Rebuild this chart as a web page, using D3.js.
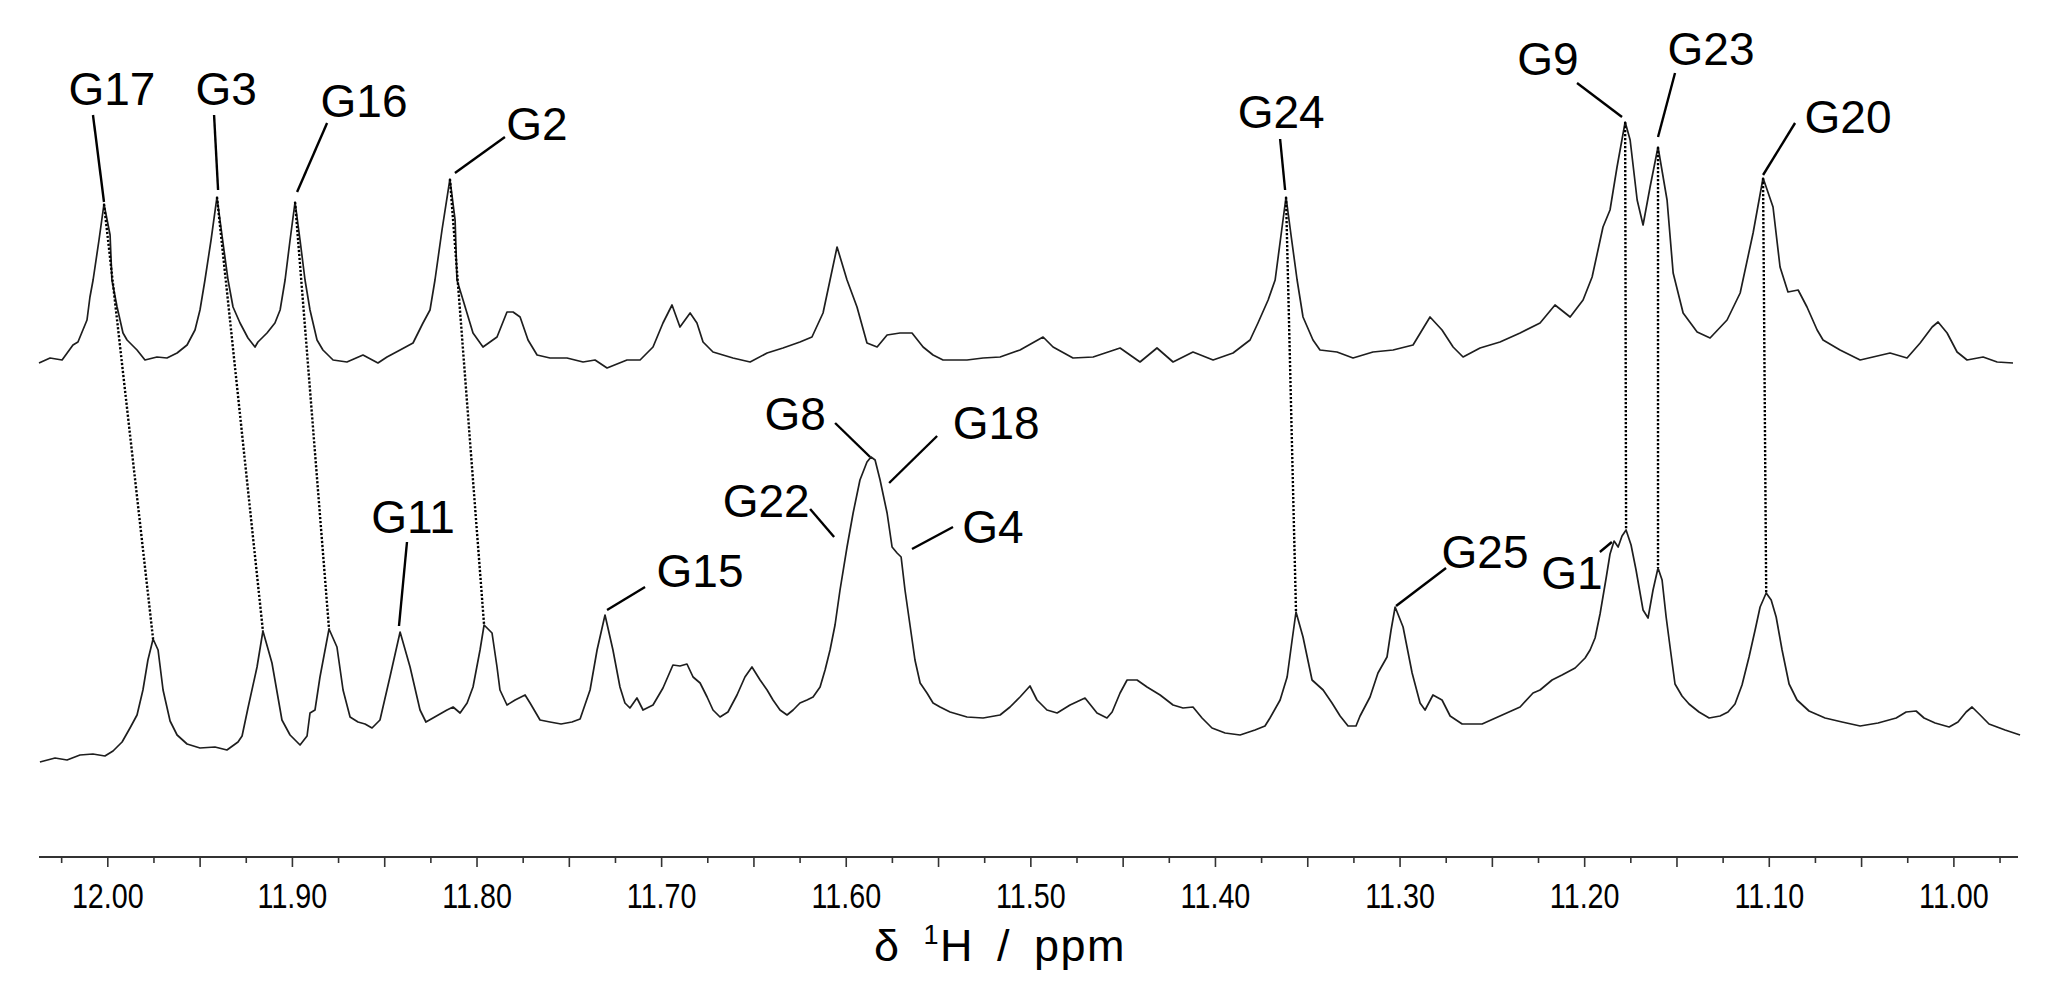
<!DOCTYPE html>
<html>
<head>
<meta charset="utf-8">
<script src="https://cdn.jsdelivr.net/npm/d3@7/dist/d3.min.js"></script>
<style>
  html, body { margin: 0; padding: 0; background: #ffffff; }
  svg { display: block; }
</style>
</head>
<body>
<svg id="chart" width="2062" height="1008"></svg>
<script>
// ---------------- DATA ----------------
// Upper spectrum: [chemical shift / ppm, intensity / a.u.]
const topTrace = [
 [12.037,-0.25],[12.031,1.0],[12.0245,0.5],[12.0186,4.25],[12.0159,5],[12.011,10.5],[12.0094,16.25],[12.0077,20.5],[12.0045,30.5],[12.0018,39.5],
 [11.9985,31.75],[11.9975,20.5],[11.9947,13.75],[11.9915,7.25],[11.9893,5.5],[11.9839,3],[11.9796,0.5],[11.9731,1.25],[11.9677,1],[11.9622,2.25],
 [11.9568,4.25],[11.9525,8],[11.9498,13],[11.9471,20.5],[11.9438,30.5],[11.9406,41.25],[11.9379,31.75],[11.9346,20.5],[11.9319,13.75],[11.9281,9.75],
 [11.9238,6],[11.92,3.75],[11.9184,5],[11.9135,7.25],[11.9092,9.75],[11.9064,13],[11.9037,20.5],[11.901,30.5],[11.8983,40],[11.8956,30.5],
 [11.8929,20.5],[11.8902,13],[11.8864,5.5],[11.8832,3],[11.8777,0.5],[11.8702,0],[11.8615,1.75],[11.8534,-0.25],[11.8485,1.25],[11.8414,3],
 [11.8344,4.75],[11.829,9.75],[11.8252,13],[11.8225,20.5],[11.8187,33],[11.8144,45.75],[11.8116,35.5],[11.8106,20.5],[11.8073,15.5],[11.8019,7.25],
 [11.7965,3.75],[11.7889,6.25],[11.7835,12.5],[11.7802,12.5],[11.7764,11.25],[11.7721,5.5],[11.7672,1.75],[11.7602,1],[11.751,1],[11.7423,0],
 [11.7358,0.5],[11.7293,-1.5],[11.7185,0.5],[11.7114,0.5],[11.7044,3.75],[11.699,9.75],[11.6941,14.25],[11.6898,8.75],[11.6843,12.25],[11.6806,9.75],
 [11.6773,5],[11.6719,2.5],[11.6611,1],[11.6518,0],[11.6426,2.25],[11.634,3.5],[11.6248,5],[11.6183,6.25],[11.6123,12.25],[11.6085,20.5],
 [11.6047,28.75],[11.5993,20.5],[11.5939,13.75],[11.5885,4.75],[11.583,3.75],[11.5776,6.75],[11.5706,7.25],[11.5641,7.25],[11.5581,3.75],[11.5527,1.75],
 [11.5473,0.5],[11.5343,0.5],[11.5256,1],[11.5164,1.25],[11.5056,3],[11.4931,6.25],[11.4877,3.75],[11.4769,1],[11.466,1.25],[11.4514,3.5],
 [11.4406,0],[11.4314,3.5],[11.4227,0],[11.4119,2.5],[11.401,0.5],[11.3902,2.25],[11.381,5.5],[11.3767,9.75],[11.3712,15.5],[11.3674,20.5],
 [11.3642,31.75],[11.3615,41.25],[11.3588,31.75],[11.3555,20.5],[11.3523,11.25],[11.3469,5.5],[11.3431,3],[11.3339,2.5],[11.3252,1],[11.3144,2.5],
 [11.3035,3],[11.2927,4.25],[11.2835,11.25],[11.277,8],[11.271,3.75],[11.2656,1.25],[11.2564,3.5],[11.2456,5],[11.2347,7.25],[11.2239,9.75],
 [11.2158,14.25],[11.2076,11.25],[11.2006,15.5],[11.1957,21.25],[11.1898,33.75],[11.186,38],[11.1822,48.75],[11.1778,60],[11.1751,55.5],[11.1713,40.5],
 [11.1681,34.25],[11.1643,43.75],[11.16,53.75],[11.1551,40.5],[11.1518,22.25],[11.1464,12.25],[11.1388,7.5],[11.1318,6],[11.1226,10.5],[11.1155,17.25],
 [11.1085,32.25],[11.1031,46],[11.0977,38.75],[11.0939,23.75],[11.0896,17.5],[11.0841,18],[11.0793,13.75],[11.0738,8],[11.0706,5.5],[11.0614,3],
 [11.0505,0.5],[11.0343,2.25],[11.0251,1],[11.018,4.75],[11.0115,8.75],[11.0083,10],[11.0034,7.25],[10.998,2.5],[10.9926,0.5],[10.9839,1.25],
 [10.9763,0],[10.9677,-0.25]
];

// Lower spectrum: [chemical shift / ppm, intensity / a.u.]
const bottomTrace = [
 [12.0365,0],[12.0283,1],[12.0218,0.5],[12.0148,1.75],[12.0078,2],[12.0013,1.5],[11.9969,2.75],[11.992,5],[11.9877,8.5],[11.9839,11.75],
 [11.9807,18],[11.978,25.5],[11.9752,30.75],[11.9725,28],[11.9698,18],[11.966,10.25],[11.9622,6.75],[11.9568,4.5],[11.9498,3.5],[11.9417,3.75],
 [11.9352,3],[11.9292,5],[11.927,6.5],[11.9238,13.5],[11.9189,23.75],[11.9157,32.75],[11.9108,24.75],[11.9054,10.5],[11.901,6.75],[11.8956,4.25],
 [11.8918,6.5],[11.8902,12.25],[11.8875,13],[11.8848,21.25],[11.8799,33.25],[11.8756,28.75],[11.8723,18],[11.8685,11.25],[11.8642,10],[11.8604,9.5],
 [11.8566,8.5],[11.8523,10.5],[11.8469,21.25],[11.8414,32.5],[11.836,23.75],[11.8306,13],[11.8274,10],[11.8236,11],[11.816,13],[11.8127,13.75],
 [11.8089,12.25],[11.8051,14.75],[11.8019,18.75],[11.7981,28],[11.7959,34.25],[11.7916,32.25],[11.7889,23.75],[11.7873,18],[11.7835,14.25],[11.7791,15.5],
 [11.7737,16.75],[11.771,14.75],[11.7656,10.5],[11.7602,10],[11.7542,9.5],[11.7483,10],[11.7439,10.75],[11.7385,18],[11.7347,28],[11.7304,36.75],
 [11.7261,28],[11.7223,18.75],[11.7196,14.75],[11.7169,13.5],[11.7131,16],[11.7098,13],[11.7044,14.25],[11.699,18.5],[11.6936,24.25],[11.6898,24],
 [11.686,24.5],[11.6827,21.25],[11.6789,19.75],[11.6751,16.25],[11.6719,13],[11.6681,11.25],[11.6638,12.5],[11.6589,16.75],[11.6546,21.25],[11.6508,23.75],
 [11.6464,20.5],[11.6426,18],[11.6394,15.5],[11.6356,13],[11.6318,11.75],[11.6285,13],[11.6248,14.75],[11.621,15.5],[11.6177,16.25],[11.6139,18.75],
 [11.6112,23],[11.6085,28],[11.6058,34.25],[11.6031,43],[11.5993,53.75],[11.596,62.25],[11.5923,70.5],[11.5885,75],[11.5863,76.25],[11.5841,75.5],
 [11.5814,70.5],[11.5776,62.25],[11.5749,53.75],[11.5722,52.25],[11.57,51.25],[11.5679,43],[11.5652,34.25],[11.5625,25.5],[11.5597,19.75],[11.556,17.25],
 [11.5527,14.75],[11.5489,13.75],[11.5435,12.5],[11.5343,11.25],[11.5256,11],[11.5164,11.75],[11.511,13.75],[11.5056,16.25],[11.5002,19],[11.4964,15.5],
 [11.491,13],[11.4855,12.25],[11.4785,14.25],[11.4704,16],[11.4639,12.25],[11.4585,11],[11.4557,12.5],[11.4514,17.25],[11.4476,20.5],[11.4422,20.5],
 [11.4368,18.75],[11.4297,16.75],[11.4227,14.25],[11.4173,13.5],[11.4119,13.75],[11.407,11],[11.4016,8.5],[11.3945,7.25],[11.3864,6.75],[11.3783,8],
 [11.3729,9],[11.3702,11],[11.3647,15.5],[11.3609,21.25],[11.3582,30.5],[11.3561,37.5],[11.3523,31.25],[11.3474,20.5],[11.3414,18],[11.3366,14.75],
 [11.3322,11.5],[11.3279,9],[11.3236,9],[11.3214,11.5],[11.316,16.25],[11.3117,22.25],[11.3068,26.25],[11.3046,33],[11.3024,38.75],[11.2981,33.75],
 [11.2932,22.25],[11.2889,14.75],[11.2862,13],[11.2819,16.75],[11.277,15.5],[11.2726,11.5],[11.2661,9.5],[11.2553,9.5],[11.2456,11.5],[11.2347,13.75],
 [11.2277,17.25],[11.2239,18],[11.2174,20.5],[11.212,21.75],[11.2049,23.5],[11.1995,26],[11.1968,28],[11.1941,31],[11.1914,37],[11.1881,46],
 [11.186,52],[11.1838,55.25],[11.1816,53.75],[11.1795,56.5],[11.1773,58],[11.1746,54.25],[11.1719,48],[11.1681,38],[11.1654,36],[11.1627,43],
 [11.16,48.5],[11.1578,45.5],[11.1556,36.25],[11.1529,26.75],[11.1508,19.5],[11.147,16.5],[11.1432,14.5],[11.1378,12.5],[11.1323,11],[11.1264,11.5],
 [11.1221,12.5],[11.1183,14.5],[11.1145,19.25],[11.1107,26.25],[11.1074,33],[11.1047,38.75],[11.1014,42.25],[11.0987,40.5],[11.096,36.25],[11.0928,28],
 [11.089,19.5],[11.0847,15.5],[11.0782,12.75],[11.0695,11],[11.0603,10],[11.0505,9],[11.0408,9.75],[11.031,11],[11.0256,12.5],[11.0202,12.75],
 [11.0159,11],[11.0099,9.75],[11.0023,8.75],[10.9975,10],[10.9931,12.5],[10.9899,13.75],[10.9855,11.75],[10.9807,9.5],[10.972,8],[10.9639,6.75]
];

// Peaks followed from the upper to the lower spectrum (dotted connectors)
const connLabels = ["G17","G3","G16","G2","G24","G9","G23","G20"];
const connTopPpm = [12.0018, 11.9406, 11.8983, 11.8144, 11.3615, 11.1778, 11.1600, 11.1031];
const connBottomPpm = [11.9752, 11.9157, 11.8799, 11.7959, 11.3561, 11.1773, 11.1600, 11.1014];

// Axis ticks
const minorTicks = d3.range(0, 43).map(i => +(12.025 - i * 0.025).toFixed(3));
const tickLabelValues = [12.0, 11.9, 11.8, 11.7, 11.6, 11.5, 11.4, 11.3, 11.2, 11.1, 11.0];
const tickLabels = ["12.00","11.90","11.80","11.70","11.60","11.50","11.40","11.30","11.20","11.10","11.00"];
const axisTitle = ["δ ", "1", "H / ppm"];

// Peak assignment labels: anchor in data space (ppm, stacked intensity)
const assignLabels = ["G17","G3","G16","G2","G24","G9","G23","G20","G11","G15","G8","G18","G22","G4","G25","G1"];
const assignPpm    = [12.0018,11.9400,11.8972,11.8117,11.3620,11.1795,11.1600,11.1031,11.8420,11.7293,11.5868,11.5765,11.6063,11.5641,11.3019,11.1850];
const assignLevel  = [140,143,142.5,147.25,143,161.25,156.25,146.75,34,38,76.25,69.75,56.25,53.25,39,55];

// ---------------- LAYOUT (pixel offsets for annotations) ----------------
const leaderOffsets = [[-11,-87],[-4,-75],[30,-69],[50,-36],[-5,-51],[-45,-34],[17,-64],[32,-52],
                       [8,-84],[38,-23],[-35,-34],[48,-47],[-24,-28],[41,-22],[50,-38],[-12,10]];
const textOffsets   = [[8,-97],[8,-85],[67,-75],[82,-33],[-4,-62],[-74,-42],[53,-72],[85,-42],
                       [14,-93],[93,-23],[-75,-27],[107,-44],[-68,-20],[81,-6],[89,-38],[-40,47]];

const TOP_OFFSET = 100; // vertical stacking offset for the upper spectrum (a.u.)

// ---------------- CHART ----------------
const svg = d3.select("#chart");
const x = d3.scaleLinear().domain([12.037, 10.965]).range([39, 2018]);
const y = d3.scaleLinear().domain([0, 180]).range([762, 42]);
const axisY = 857;

function fontAvailable(name) {
  const c = document.createElement("canvas").getContext("2d");
  const s = "12.00 abcdefghij ppm";
  c.font = "40px monospace";
  const w1 = c.measureText(s).width;
  c.font = `40px "${name}", monospace`;
  return c.measureText(s).width !== w1;
}
const narrowOK = fontAvailable("Liberation Sans Narrow");
const narrowFamily = narrowOK ? '"Liberation Sans Narrow", "Arial Narrow", sans-serif' : '"Liberation Sans", Arial, sans-serif';
const squeeze = narrowOK ? 1 : 0.82;
const sansFamily = '"Liberation Sans", Arial, Helvetica, sans-serif';

const line = d3.line().x(d => x(d[0])).y(d => y(d[1])).curve(d3.curveLinear);

svg.append("path")
  .datum(topTrace.map(d => [d[0], d[1] + TOP_OFFSET]))
  .attr("d", line).attr("fill", "none")
  .attr("stroke", "#1e1e1e").attr("stroke-width", 1.7).attr("stroke-linejoin", "round");

svg.append("path")
  .datum(bottomTrace)
  .attr("d", line).attr("fill", "none")
  .attr("stroke", "#1e1e1e").attr("stroke-width", 1.7).attr("stroke-linejoin", "round");

function nearestIntensity(trace, ppm) {
  let best = trace[0];
  trace.forEach(p => { if (Math.abs(p[0] - ppm) < Math.abs(best[0] - ppm)) best = p; });
  return best[1];
}

// dotted connectors
connLabels.forEach((lab, i) => {
  const yt = nearestIntensity(topTrace, connTopPpm[i]) + TOP_OFFSET;
  const yb = nearestIntensity(bottomTrace, connBottomPpm[i]);
  svg.append("line")
    .attr("x1", x(connTopPpm[i])).attr("y1", y(yt))
    .attr("x2", x(connBottomPpm[i])).attr("y2", y(yb))
    .attr("stroke", "#000").attr("stroke-width", 2.4)
    .attr("stroke-dasharray", "2.2,1.8");
});

// assignment labels with leader lines
assignLabels.forEach((lab, i) => {
  const ax = x(assignPpm[i]), ay = y(assignLevel[i]);
  svg.append("line")
    .attr("x1", ax + leaderOffsets[i][0]).attr("y1", ay + leaderOffsets[i][1])
    .attr("x2", ax).attr("y2", ay)
    .attr("stroke", "#000").attr("stroke-width", 2.4);
  svg.append("text")
    .attr("x", ax + textOffsets[i][0]).attr("y", ay + textOffsets[i][1])
    .attr("text-anchor", "middle")
    .attr("font-family", sansFamily)
    .attr("font-size", 46).attr("fill", "#000")
    .text(lab);
});

// axis
const axis = d3.axisBottom(x)
  .tickValues(minorTicks)
  .tickSizeOuter(0)
  .tickSize(6)
  .tickFormat(d => {
    const k = tickLabelValues.findIndex(v => Math.abs(v - d) < 1e-6);
    return k >= 0 ? tickLabels[k] : "";
  });

const gAxis = svg.append("g").attr("transform", `translate(0,${axisY})`).call(axis);
gAxis.select(".domain").attr("stroke", "#333").attr("stroke-width", 2.2)
  .attr("d", `M${x(12.037)},0H${x(10.965)}`);
gAxis.selectAll(".tick line")
  .attr("stroke", "#333").attr("stroke-width", 1.6)
  .attr("y2", d => (Math.abs(Math.round(d / 0.05) * 0.05 - d) < 1e-6) ? 10 : 6);
gAxis.selectAll(".tick text")
  .attr("y", 51).attr("dy", 0)
  .attr("font-family", narrowFamily)
  .attr("font-size", 35).attr("fill", "#000")
  .attr("transform", `scale(${squeeze},1)`);

const title = svg.append("text")
  .attr("x", 1000).attr("y", 961)
  .attr("text-anchor", "middle")
  .attr("font-family", sansFamily)
  .attr("font-size", 45).attr("fill", "#000")
  .attr("letter-spacing", 1.5).attr("word-spacing", 9);
title.append("tspan").text(axisTitle[0]);
title.append("tspan").attr("font-size", 27).attr("dy", -17).text(axisTitle[1]);
title.append("tspan").attr("dy", 17).text(axisTitle[2]);
</script>
</body>
</html>
